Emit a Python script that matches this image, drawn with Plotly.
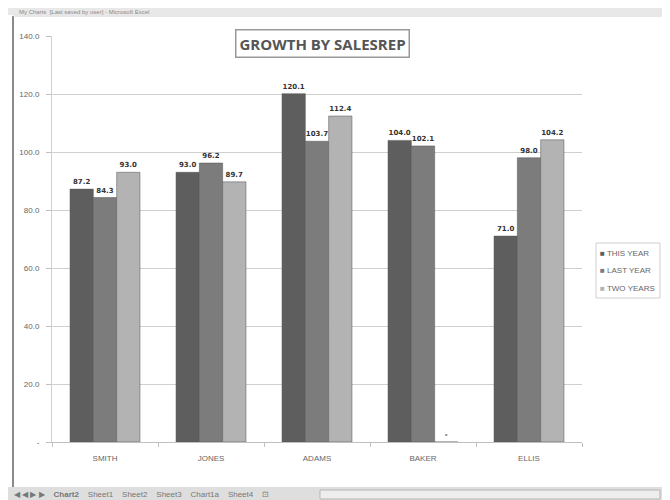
import plotly.graph_objects as go

categories = ["SMITH", "JONES", "ADAMS", "BAKER", "ELLIS"]
this_year = [87.2, 93.0, 120.1, 104.0, 71.0]
last_year = [84.3, 96.2, 103.7, 102.1, 98.0]
two_years = [93.0, 89.7, 112.4, 0.0, 104.2]
series_names = ["THIS YEAR", "LAST YEAR", "TWO YEARS"]
series_colors = ["#5e5e5e", "#7c7c7c", "#b3b3b3"]
tick_vals = [0, 20, 40, 60, 80, 100, 120, 140]
tick_text = ["-", "20.0", "40.0", "60.0", "80.0", "100.0", "120.0", "140.0"]

# page body has an 8px default margin; size the figure to fill the rest
OFF = 8
W, H = 670 - OFF, 500 - OFF
L, R, T, B = 52, 582, 36, 442   # plot area in screenshot pixels


def px(x):
    return (x - L) / (R - L)


def py(y):
    return (B - y) / (B - T)


def lab(v):
    return "<b>-</b>" if v == 0 else f"<b>{v:.1f}</b>"


fig = go.Figure()
for name, vals, col in zip(series_names, [this_year, last_year, two_years], series_colors):
    fig.add_trace(go.Bar(
        x=categories, y=vals, name=name,
        marker=dict(color=col, line=dict(color="#555555", width=0.5)),
        text=[lab(v) for v in vals], textposition="outside",
        textfont=dict(size=7, color="#333333", family="DejaVu Sans"),
        cliponaxis=False, showlegend=False,
    ))

fig.update_layout(
    width=W, height=H,
    margin=dict(l=L - OFF, r=W - (R - OFF), t=T - OFF, b=H - (B - OFF), autoexpand=False),
    paper_bgcolor="white", plot_bgcolor="white",
    barmode="group", bargap=0.34, bargroupgap=0,
    uniformtext=dict(minsize=7, mode="show"),
    font=dict(family="Liberation Sans, Arial", color="#666666"),
    showlegend=False,
    xaxis=dict(
        showline=True, linecolor="#bfbfbf", linewidth=1,
        ticks="outside", tickson="boundaries", ticklen=4, tickcolor="#bfbfbf",
        tickfont=dict(size=8, color="#666666"), showgrid=False,
        ticklabelstandoff=8,
    ),
    yaxis=dict(
        range=[0, 140], tickvals=tick_vals, ticktext=tick_text,
        showline=True, linecolor="#d0d0d0", linewidth=1,
        ticks="outside", ticklen=5, tickcolor="#bfbfbf",
        tickfont=dict(size=8, color="#666666"),
        showgrid=True, gridcolor="#cfcfcf", gridwidth=1,
        zeroline=False, ticklabelstandoff=5,
    ),
)

# legend (compact, Excel-like): a framed box with one row per series
leg_rows = [253, 270, 288]
fig.add_shape(type="rect", xref="paper", yref="paper",
              x0=px(596), x1=px(660), y0=py(243), y1=py(298),
              line=dict(color="#cfcfcf", width=1), fillcolor="white", layer="above")
for n, c, yy in zip(series_names, series_colors, leg_rows):
    fig.add_annotation(
        x=px(598), y=py(yy), xref="paper", yref="paper",
        xanchor="left", yanchor="middle", align="left",
        text=f"<span style='color:{c}'>■</span> {n}", showarrow=False,
        font=dict(size=8, color="#666666"),
    )

# chart title box
fig.add_annotation(
    x=px(322), y=py(44), xref="paper", yref="paper",
    xanchor="center", yanchor="middle",
    text="<b>GROWTH BY SALESREP</b>", showarrow=False,
    font=dict(size=15, color="#555555", family="Open Sans, Liberation Sans"),
    bordercolor="#999999", borderwidth=1.5, borderpad=3, bgcolor="white",
)

# Excel window chrome
shapes = [
    dict(type="rect", x0=px(0), x1=px(670), y0=py(0), y1=py(15),
         fillcolor="#e8e8e8", line=dict(width=0)),
    dict(type="line", x0=px(13), x1=px(13), y0=py(16), y1=py(488),
         line=dict(color="#8a8a8a", width=2)),
    dict(type="line", x0=px(663), x1=px(663), y0=py(16), y1=py(488),
         line=dict(color="#bdbdbd", width=2)),
    dict(type="line", x0=px(13), x1=px(663), y0=py(16), y1=py(16),
         line=dict(color="#cfcfcf", width=1)),
    dict(type="rect", x0=px(0), x1=px(670), y0=py(487), y1=py(500),
         fillcolor="#dedede", line=dict(width=0)),
    dict(type="rect", x0=px(320), x1=px(660), y0=py(490), y1=py(499),
         fillcolor="#eeeeee", line=dict(color="#b5b5b5", width=1)),
]
for s in shapes:
    s.update(xref="paper", yref="paper", layer="above")
    fig.add_shape(**s)

fig.add_annotation(
    x=px(18), y=py(8), xref="paper", yref="paper", xanchor="left", yanchor="top",
    text="My Charts  [Last saved by user] - Microsoft Excel", showarrow=False,
    font=dict(size=6, color="#888888"), borderpad=0,
)
fig.add_annotation(
    x=px(12), y=py(494), xref="paper", yref="paper", xanchor="left", yanchor="middle",
    text="◀ ◀ ▶ ▶    <b>Chart2</b>    Sheet1    Sheet2    Sheet3    Chart1a    Sheet4    ⊡",
    showarrow=False, font=dict(size=8, color="#777777"),
)

fig.write_html("out.html")
